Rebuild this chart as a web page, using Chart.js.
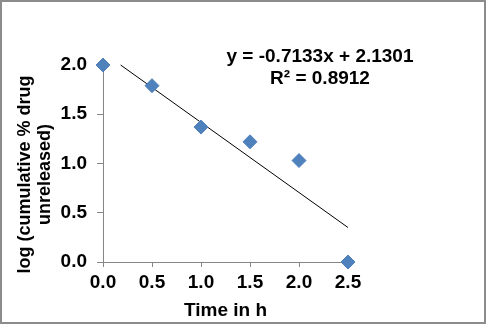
<!DOCTYPE html>
<html>
<head>
<meta charset="utf-8">
<script src="https://cdn.jsdelivr.net/npm/chart.js@4"></script>
<style>
    html, body { margin: 0; padding: 0; background: #fff; }
    #wrap { width: 486px; height: 324px; position: relative; }
</style>
</head>
<body>
<div id="wrap"><canvas id="chart" width="486" height="324"></canvas></div>
<script>
// Measured points (time in h vs log cumulative % drug unreleased)
const timeHours = [0.0, 0.5, 1.0, 1.5, 2.0, 2.5];
const logUnreleased = [2.0, 1.79, 1.37, 1.22, 1.03, 0.0];

// Linear trendline as drawn in the picture
const trendX = [0.18, 2.5];
const trendY = [2.0, 0.35];
const trendLabel = ['y = -0.7133x + 2.1301', 'R\u00B2 = 0.8912'];

const xTicks = [0, 0.5, 1.0, 1.5, 2.0, 2.5];
const yTicks = [0, 0.5, 1.0, 1.5, 2.0];
const xTitle = 'Time in h';
const yTitle = ['log (cumulative % drug', 'unreleased)'];

const FONT = 'Liberation Sans, Arial, sans-serif';
const AXIS_GRAY = '#868686';

// Draws frame, equation text and the two-line y axis title
const extrasPlugin = {
    id: 'extras',
    afterDraw(chart) {
        const ctx = chart.ctx;
        ctx.save();
        // outer frame
        ctx.strokeStyle = '#8c8c8c';
        ctx.lineWidth = 2;
        ctx.strokeRect(1, 1, chart.width - 2, chart.height - 2);

        ctx.fillStyle = '#000';
        ctx.font = 'bold 19px ' + FONT;
        ctx.textAlign = 'center';
        ctx.textBaseline = 'middle';
        ctx.fillText(trendLabel[0], 320, 57);
        ctx.fillText(trendLabel[1], 320, 79);

        // y axis title, rotated
        ctx.font = 'bold 18px ' + FONT;
        ctx.translate(35, 174.5);
        ctx.rotate(-Math.PI / 2);
        ctx.fillText(yTitle[0], 0, -10);
        ctx.fillText(yTitle[1], 0, 10);
        ctx.restore();
    }
};

const ctx = document.getElementById('chart');
new Chart(ctx, {
    type: 'scatter',
    data: {
        datasets: [{
            label: 'data',
            data: timeHours.map((t, i) => ({ x: t, y: logUnreleased[i] })),
            pointStyle: 'rectRot',
            pointRadius: 7,
            backgroundColor: '#4F81BD',
            borderColor: '#4F81BD',
            borderWidth: 1,
            clip: false
        }, {
            type: 'line',
            label: 'trend',
            data: trendX.map((t, i) => ({ x: t, y: trendY[i] })),
            borderColor: '#000',
            borderWidth: 1,
            pointRadius: 0,
            fill: false,
            clip: false
        }]
    },
    options: {
        responsive: false,
        animation: false,
        layout: { padding: { left: 0, right: 138, top: 65, bottom: 0 } },
        plugins: {
            legend: { display: false },
            tooltip: { enabled: false }
        },
        scales: {
            x: {
                type: 'linear',
                min: 0,
                max: 2.5,
                afterFit(scale) { scale.height = 62; },
                afterBuildTicks(scale) { scale.ticks = xTicks.map(v => ({ value: v })); },
                border: { color: AXIS_GRAY, width: 1 },
                grid: { drawOnChartArea: false, color: AXIS_GRAY, tickLength: 5 },
                ticks: {
                    color: '#000',
                    padding: 4,
                    maxRotation: 0,
                    font: { family: FONT, size: 19, weight: 'bold' },
                    callback: v => v.toFixed(1)
                },
                title: {
                    display: true,
                    text: xTitle,
                    color: '#000',
                    padding: { top: 0, bottom: 2 },
                    font: { family: FONT, size: 19, weight: 'bold' }
                }
            },
            y: {
                type: 'linear',
                min: 0,
                max: 2.0,
                afterFit(scale) { scale.width = 103; },
                afterBuildTicks(scale) { scale.ticks = yTicks.map(v => ({ value: v })); },
                border: { color: AXIS_GRAY, width: 1 },
                grid: { drawOnChartArea: false, color: AXIS_GRAY, tickLength: 6 },
                ticks: {
                    color: '#000',
                    padding: 10,
                    font: { family: FONT, size: 19, weight: 'bold' },
                    callback: v => v.toFixed(1)
                }
            }
        }
    },
    plugins: [extrasPlugin]
});
</script>
</body>
</html>
